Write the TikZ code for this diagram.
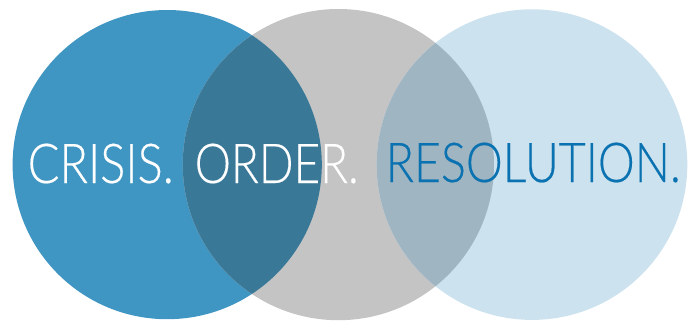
\documentclass[tikz,border=0pt]{standalone}
\usepackage{fontspec}
\usepackage{graphicx}
\newfontfamily\wordfont{Lato Light}[FakeBold=0.35]
\definecolor{cblue}{RGB}{64,150,195}
\definecolor{cgray}{RGB}{196,196,196}
\definecolor{clight}{RGB}{205,226,239}
\definecolor{cdark}{RGB}{58,120,152}
\definecolor{cmix}{RGB}{160,181,194}
\definecolor{ctext}{RGB}{10,114,176}
\begin{document}
\begin{tikzpicture}[x=1pt,y=-1pt,
  word/.style={anchor=base west,inner sep=0pt,font=\wordfont\fontsize{55}{66}\selectfont}]
\useasboundingbox (0,0) rectangle (697,322);
\fill[white] (0,0) rectangle (697,322);
\coordinate (cL) at (167.2,164.6);
\coordinate (cM) at (338.4,164.6);
\coordinate (cR) at (532,164.6);
\fill[cblue] (cL) circle (154.6);
\fill[cgray] (cM) circle (155.6);
\fill[clight] (cR) circle (155.3);
\begin{scope}
  \clip (cL) circle (154.6);
  \fill[cdark] (cM) circle (155.6);
\end{scope}
\begin{scope}
  \clip (cM) circle (155.6);
  \fill[cmix] (cR) circle (155.3);
\end{scope}
\node[word,text=white] (crisis) at (27.5,183) {\resizebox{146pt}{\height}{CRISIS.}};
\node[word,text=white] (order) at (194.5,183) {\resizebox{164pt}{\height}{ORDER.}};
\node[word,text=ctext] (resolution) at (385.5,182) {\resizebox{295pt}{\height}{RESOLUTION.}};
\end{tikzpicture}
\end{document}
